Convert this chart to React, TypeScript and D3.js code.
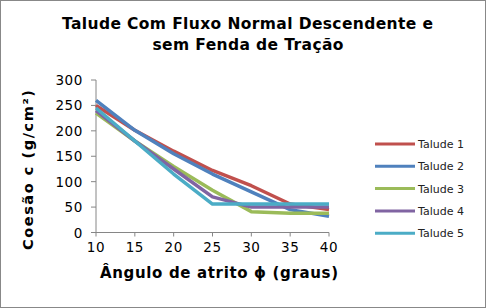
import React from "react";
import * as d3 from "d3";

const angles = [10, 15, 20, 25, 30, 35, 40];
const talude1 = [250, 201, 160, 122, 92, 56, 45];
const talude2 = [260, 201, 155, 115, 80, 45, 32];
const talude3 = [235, 180, 130, 83, 41, 38, 38];
const talude4 = [240, 180, 125, 70, 50, 50, 50];
const talude5 = [245, 180, 115, 56, 56, 56, 56];
const seriesNames = ["Talude 1", "Talude 2", "Talude 3", "Talude 4", "Talude 5"];
const seriesValues = [talude1, talude2, talude3, talude4, talude5];
const colors = ["#C0504D", "#4F81BD", "#9BBB59", "#8064A2", "#4BACC6"];
const yTicks = [0, 50, 100, 150, 200, 250, 300];
const xTicks = [10, 15, 20, 25, 30, 35, 40];

export default function App() {
  const W = 486;
  const H = 308;
  const x = d3.scaleLinear().domain([10, 40]).range([96, 329]);
  const y = d3.scaleLinear().domain([0, 300]).range([232.5, 80]);
  const line = d3
    .line<number>()
    .x((_, i) => x(angles[i]))
    .y((d) => y(d));
  const font = "Tahoma, 'DejaVu Sans', sans-serif";
  const axisColor = "#868686";

  return (
    <svg
      width={W}
      height={H}
      style={{ position: "absolute", left: 0, top: 0 }}
      fontFamily={font}
    >
      <rect x={0.5} y={0.5} width={W - 1} height={H - 1} fill="#fff" stroke="#888" strokeWidth={1} />
      <text x={247.5} y={29} textAnchor="middle" fontSize={15.5} fontWeight="bold" fill="#000" textLength={371} lengthAdjust="spacing">
        Talude Com Fluxo Normal Descendente e
      </text>
      <text x={248} y={50} textAnchor="middle" fontSize={15.5} fontWeight="bold" fill="#000" textLength={191} lengthAdjust="spacing">
        sem Fenda de Tração
      </text>

      {/* axes */}
      <line x1={x(10)} x2={x(10)} y1={y(300)} y2={y(0)} stroke={axisColor} strokeWidth={1} />
      <line x1={x(10)} x2={x(40)} y1={y(0)} y2={y(0)} stroke={axisColor} strokeWidth={1} />
      {yTicks.map((t) => (
        <g key={"y" + t}>
          <line x1={x(10) - 5} x2={x(10)} y1={y(t)} y2={y(t)} stroke={axisColor} />
          <text x={x(10) - 13} y={y(t) + 5} textAnchor="end" fontSize={13.5} fill="#000" letterSpacing={0.6}>
            {t}
          </text>
        </g>
      ))}
      {xTicks.map((t) => (
        <g key={"x" + t}>
          <line x1={x(t)} x2={x(t)} y1={y(0)} y2={y(0) + 4} stroke={axisColor} />
          <text x={x(t)} y={252} textAnchor="middle" fontSize={13.5} fill="#000" letterSpacing={0.6}>
            {t}
          </text>
        </g>
      ))}

      {/* series */}
      {seriesValues.map((vals, i) => (
        <path
          key={seriesNames[i]}
          d={line(vals) || ""}
          fill="none"
          stroke={colors[i]}
          strokeWidth={3.5}
          strokeLinejoin="round"
        />
      ))}

      {/* axis titles */}
      <text x={219} y={278} textAnchor="middle" fontSize={15} fontWeight="bold" fill="#000" textLength={238} lengthAdjust="spacing">
        Ângulo de atrito ϕ (graus)
      </text>
      <text
        transform={`translate(33,170) rotate(-90)`}
        textAnchor="middle"
        fontSize={14.5}
        fontWeight="bold"
        fill="#000"
        textLength={160}
        lengthAdjust="spacing"
      >
        Coesão c (g/cm²)
      </text>

      {/* legend */}
      {seriesNames.map((n, i) => {
        const ly = 144 + i * 22.3;
        return (
          <g key={"l" + n}>
            <line x1={375} x2={415} y1={ly} y2={ly} stroke={colors[i]} strokeWidth={3} />
            <text x={418} y={ly + 4} fontSize={11} fill="#222">
              {n}
            </text>
          </g>
        );
      })}
    </svg>
  );
}
